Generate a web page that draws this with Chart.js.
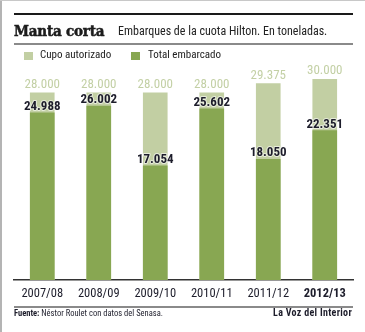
<!DOCTYPE html>
<html>
<head>
<meta charset="utf-8">
<script src="https://cdn.jsdelivr.net/npm/chart.js@4.4.0/dist/chart.umd.min.js"></script>
<style>
  html, body { margin: 0; padding: 0; background: #fff; }
  #wrap { position: relative; width: 365px; height: 332px; overflow: hidden;
          border-top: 1px solid #c8c8c8; box-sizing: border-box; }
  #wrap::before { content: ''; position: absolute; left: 0; top: 0; bottom: 0; width: 2px; background: #b4b4b4; }
  canvas { position: absolute; left: 0; top: 0; }
  .rule { position: absolute; left: 14px; width: 339px; }
  .txt { position: absolute; white-space: nowrap; font-family: "Roboto Condensed", "DejaVu Sans Condensed", sans-serif; color: #222; }
  #title { left: 14px; top: 21px; font-family: "DejaVu Serif Condensed", "DejaVu Serif", serif; font-weight: bold; font-size: 15px;
           color: #1c1c1c; letter-spacing: -0.2px; -webkit-text-stroke: 0.5px #1c1c1c; }
  #subtitle { left: 118px; top: 23px; font-size: 12px; }
  .sw { position: absolute; width: 9px; height: 8px; top: 51px; }
  .leg { top: 47px; font-size: 11px; }
  #src { left: 14px; top: 307px; font-size: 8.5px; color: #1d1d2b; }
  #brand { right: 13px; top: 306px; font-weight: bold; font-size: 10px; letter-spacing: 0.3px; color: #1d1d2b; }
</style>
</head>
<body>
<div id="wrap">
  <canvas id="chart" width="365" height="331"></canvas>
  <div class="rule" style="top:12px;height:2px;background:#1a1a1a;"></div>
  <div class="txt" id="title">Manta corta</div>
  <div class="txt" id="subtitle">Embarques de la cuota Hilton. En toneladas.</div>
  <div class="rule" style="top:42px;height:2px;background:#8a8a8a;"></div>
  <div class="sw" style="left:24px;background:#c2cfa3;"></div>
  <div class="txt leg" style="left:40px;">Cupo autorizado</div>
  <div class="sw" style="left:131px;background:#88a752;"></div>
  <div class="txt leg" style="left:148px;">Total embarcado</div>
  <div class="rule" style="top:305px;height:2px;background:#8a8a8a;"></div>
  <div class="txt" id="src"><b>Fuente:</b> Néstor Roulet con datos del Senasa.</div>
  <div class="txt" id="brand">La Voz del Interior</div>
</div>
<script>
const seasons = ['2007/08', '2008/09', '2009/10', '2010/11', '2011/12', '2012/13'];
const quota = [28000, 28000, 28000, 28000, 29375, 30000];
const shipped = [24988, 26002, 17054, 25602, 18050, 22351];

const LIGHT = '#c2cfa3';
const DARK = '#88a752';
const FONT = '"Roboto Condensed", "DejaVu Sans Condensed", sans-serif';

// 28000 -> 28.000
function fmt(v) {
    return String(v).replace(/\B(?=(\d{3})+(?!\d))/g, '.');
}

// value labels above each bar
const valueLabels = {
    id: 'valueLabels',
    afterDatasetsDraw(chart) {
        const ctx = chart.ctx;
        ctx.save();
        ctx.textAlign = 'center';
        ctx.textBaseline = 'alphabetic';

        const quotaMeta = chart.getDatasetMeta(1);
        ctx.font = '13px ' + FONT;
        ctx.fillStyle = '#c3d0a5';
        quotaMeta.data.forEach((bar, i) => {
            ctx.fillText(fmt(quota[i]), bar.x, bar.y - 5);
        });

        const shipMeta = chart.getDatasetMeta(0);
        ctx.font = 'bold 13px ' + FONT;
        ctx.lineJoin = 'round';
        shipMeta.data.forEach((bar, i) => {
            ctx.strokeStyle = 'rgba(255,255,255,0.6)';
            ctx.lineWidth = 2;
            ctx.strokeText(fmt(shipped[i]), bar.x, bar.y - 3);
            ctx.fillStyle = '#1d1d2b';
            ctx.fillText(fmt(shipped[i]), bar.x, bar.y - 3);
        });
        ctx.restore();
    }
};

new Chart(document.getElementById('chart'), {
    type: 'bar',
    data: {
        labels: seasons,
        datasets: [
            { label: 'Total embarcado', data: shipped, backgroundColor: DARK, order: 0 },
            { label: 'Cupo autorizado', data: quota, backgroundColor: LIGHT, order: 1 }
        ]
    },
    options: {
        responsive: false,
        animation: false,
        devicePixelRatio: 1,
        layout: { padding: { left: 14, right: 12, top: 65, bottom: 25 } },
        datasets: { bar: { grouped: false, barThickness: 24 } },
        plugins: { legend: { display: false }, tooltip: { enabled: false } },
        scales: {
            x: {
                grid: { display: false, drawTicks: false },
                border: { display: true, color: '#333', width: 1.5 },
                ticks: {
                    padding: 6,
                    maxRotation: 0,
                    autoSkip: false,
                    color: '#1d1d2b',
                    font: ctx => ({ family: FONT, size: 12.5, weight: ctx.index === seasons.length - 1 ? 'bold' : 'normal' })
                }
            },
            y: { display: false, min: 0, max: 32000 }
        }
    },
    plugins: [valueLabels]
});
</script>
</body>
</html>
